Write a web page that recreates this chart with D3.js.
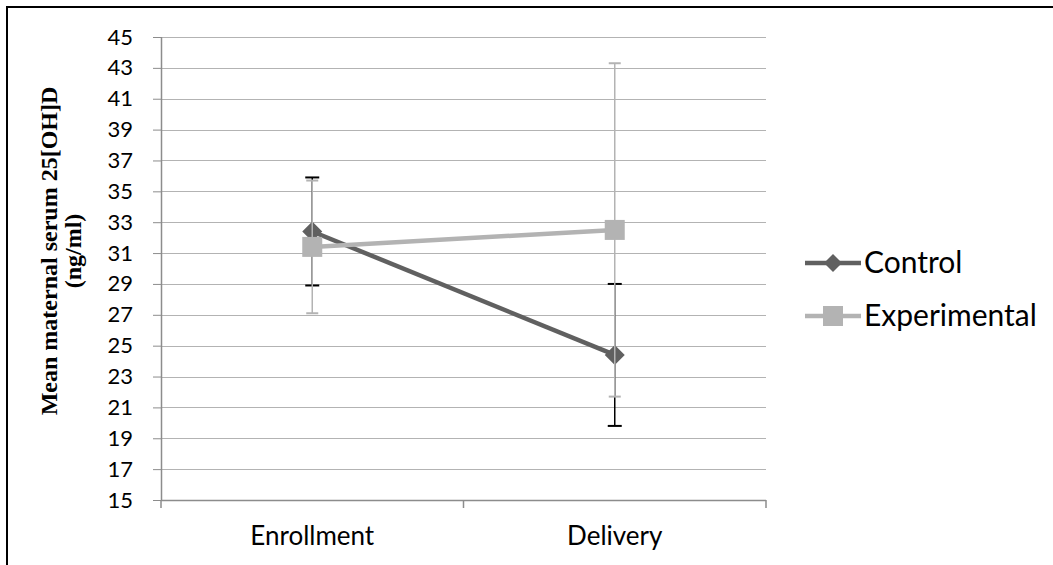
<!DOCTYPE html>
<html>
<head>
<meta charset="utf-8">
<script src="https://cdn.jsdelivr.net/npm/d3@7"></script>
<style>
  body { margin: 0; background: #fff; }
  svg { display: block; }
</style>
</head>
<body>
<svg></svg>
<script>
// data
const categories = ['Enrollment', 'Delivery'];
const seriesNames = ['Control', 'Experimental'];
const controlMean = [32.4, 24.4];
const controlErr = [3.5, 4.6];
const experimentalMean = [31.4, 32.5];
const experimentalErr = [4.3, 10.8];
const yTicks = d3.range(15, 46, 2);

const width = 1053;
const height = 565;
const margin = { left: 161, top: 37, right: 287, bottom: 65 };
const innerWidth = width - margin.left - margin.right;
const innerHeight = height - margin.top - margin.bottom;

const svg = d3.select('svg').attr('width', width).attr('height', height);

// outer frame (top and left only visible)
svg.append('line').attr('x1', 6).attr('x2', width).attr('y1', 7).attr('y2', 7)
  .attr('stroke', '#000').attr('stroke-width', 2);
svg.append('line').attr('x1', 7).attr('x2', 7).attr('y1', 6).attr('y2', height)
  .attr('stroke', '#000').attr('stroke-width', 2);

const g = svg.append('g').attr('transform', `translate(${margin.left}, ${margin.top})`);

const x = d3.scaleBand().domain(categories).range([0, innerWidth]);
const y = d3.scaleLinear().domain([15, 45]).range([innerHeight, 0]);
const cx = (c) => x(c) + x.bandwidth() / 2;

// gridlines
g.append('g')
  .selectAll('line')
  .data(yTicks.filter((t) => t > 15))
  .enter()
  .append('line')
  .attr('x1', 0)
  .attr('x2', innerWidth)
  .attr('y1', (d) => Math.round(y(d)) + 0.5)
  .attr('y2', (d) => Math.round(y(d)) + 0.5)
  .attr('stroke', '#b3b3b3')
  .attr('stroke-width', 1);

// y axis
const yAxis = g.append('g')
  .attr('font-size', 22)
  .call(d3.axisLeft(y).tickValues(yTicks).tickSize(8).tickPadding(20).tickFormat(d3.format('d')));
yAxis.attr('font-size', 22).attr('font-family', 'Lato, "Open Sans", sans-serif');
yAxis.select('.domain').attr('stroke', '#8c8c8c').attr('stroke-width', 1.5).attr('d', `M0.5,0V${innerHeight}`);
yAxis.selectAll('.tick line').attr('stroke', '#8c8c8c');
yAxis.selectAll('.tick text')
  .attr('fill', '#000')
  .style('font-family', 'Lato, "Open Sans", sans-serif')
  .style('font-size', '22px');

// x axis
const xAxis = g.append('g').attr('transform', `translate(0, ${innerHeight})`);
xAxis.append('line').attr('x1', 0).attr('x2', innerWidth).attr('y1', 0.5).attr('y2', 0.5)
  .attr('stroke', '#8c8c8c').attr('stroke-width', 1.5);
xAxis.selectAll('line.tick')
  .data([0, x('Delivery'), innerWidth])
  .enter()
  .append('line')
  .attr('class', 'tick')
  .attr('x1', (d) => d).attr('x2', (d) => d)
  .attr('y1', 0).attr('y2', 8)
  .attr('stroke', '#8c8c8c').attr('stroke-width', 1.5);
xAxis.selectAll('text')
  .data(categories)
  .enter()
  .append('text')
  .attr('x', cx)
  .attr('y', 45)
  .attr('text-anchor', 'middle')
  .style('font-family', 'Lato, "Open Sans", sans-serif')
  .style('font-size', '26px')
  .text((d) => d);

// y axis title
const title = svg.append('text')
  .attr('transform', `translate(57, 251) rotate(-90)`)
  .attr('text-anchor', 'middle')
  .style('font-family', '"Liberation Serif", "Times New Roman", serif')
  .style('font-weight', 'bold')
  .style('font-size', '24px');
title.append('tspan').attr('x', 0).attr('dy', 0).text('Mean maternal serum 25[OH]D');
title.append('tspan').attr('x', 0).attr('dy', 24).text('(ng/ml)');

const series = [
  { name: seriesNames[0], mean: controlMean, err: controlErr, color: '#606060', errColor: '#000', cap: 7, marker: 'diamond' },
  { name: seriesNames[1], mean: experimentalMean, err: experimentalErr, color: '#b3b3b3', errColor: '#b3b3b3', cap: 6, marker: 'square' },
];

const line = d3.line().x((d) => cx(d.c)).y((d) => y(d.v));

const diamond = (size) => `M0,${-size}L${size},0L0,${size}L${-size},0Z`;

series.forEach((s) => {
  const pts = categories.map((c, i) => ({ c, v: s.mean[i], e: s.err[i] }));
  const sg = g.append('g');

  // error bars
  const eb = sg.selectAll('g.err').data(pts).enter().append('g').attr('class', 'err');
  eb.append('line')
    .attr('x1', (d) => cx(d.c)).attr('x2', (d) => cx(d.c))
    .attr('y1', (d) => y(d.v + d.e)).attr('y2', (d) => y(d.v - d.e))
    .attr('stroke', s.errColor).attr('stroke-width', 1.5);
  [1, -1].forEach((sign) => {
    eb.append('line')
      .attr('x1', (d) => cx(d.c) - s.cap).attr('x2', (d) => cx(d.c) + s.cap)
      .attr('y1', (d) => y(d.v + sign * d.e)).attr('y2', (d) => y(d.v + sign * d.e))
      .attr('stroke', s.errColor).attr('stroke-width', 2);
  });

  sg.append('path')
    .datum(pts)
    .attr('d', line)
    .attr('fill', 'none')
    .attr('stroke', s.color)
    .attr('stroke-width', 4.5);

  sg.selectAll('path.marker')
    .data(pts)
    .enter()
    .append('path')
    .attr('class', 'marker')
    .attr('transform', (d) => `translate(${cx(d.c)}, ${y(d.v)})`)
    .attr('d', s.marker === 'diamond' ? diamond(10) : 'M-10,-10H10V10H-10Z')
    .attr('fill', s.color);
});

// legend
const legend = svg.append('g').attr('transform', 'translate(805, 263)');
series.forEach((s, i) => {
  const lg = legend.append('g').attr('transform', `translate(0, ${i * 53})`);
  lg.append('line').attr('x1', 0).attr('x2', 56).attr('y1', 0).attr('y2', 0)
    .attr('stroke', s.color).attr('stroke-width', 4.5);
  lg.append('path')
    .attr('transform', 'translate(28, 0)')
    .attr('d', s.marker === 'diamond' ? diamond(9) : 'M-10,-10H10V10H-10Z')
    .attr('fill', s.color);
  lg.append('text')
    .attr('x', 59)
    .attr('y', 10)
    .style('font-family', 'Lato, "Open Sans", sans-serif')
    .style('font-size', '30px')
    .text(s.name);
});
</script>
</body>
</html>
